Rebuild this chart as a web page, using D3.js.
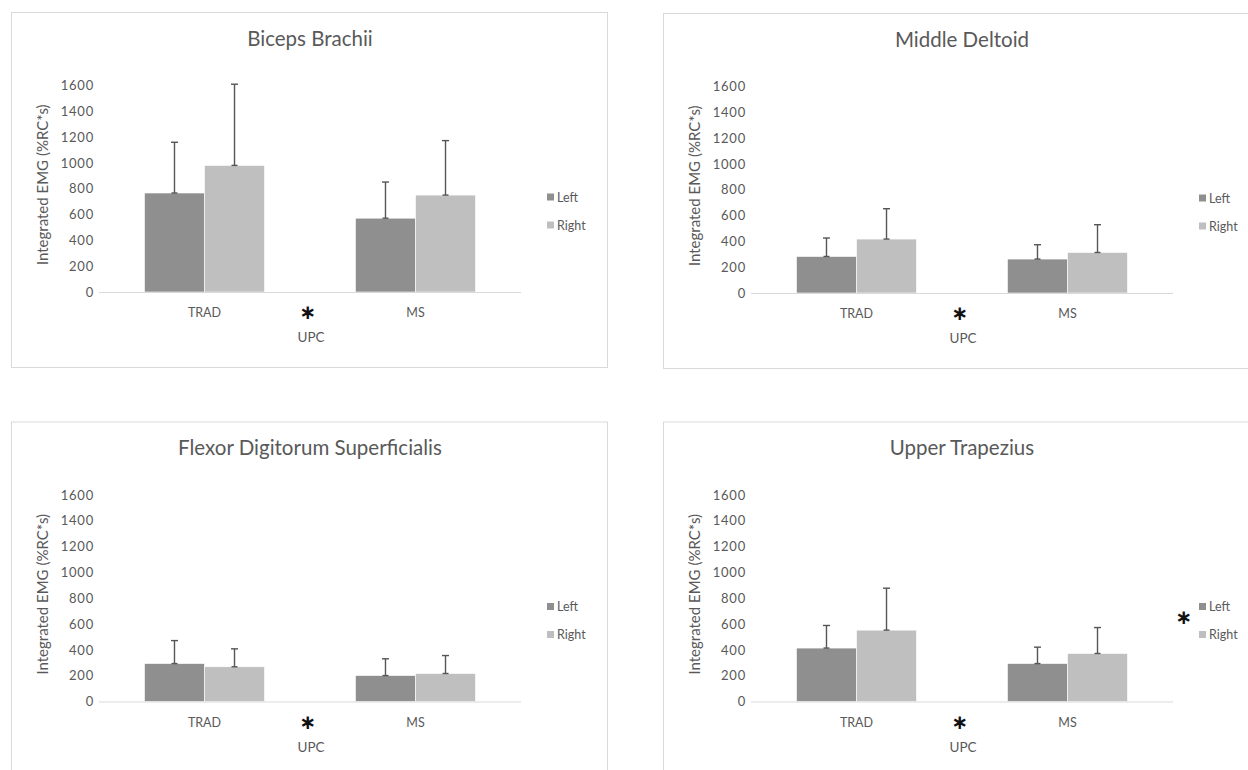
<!DOCTYPE html>
<html>
<head>
<meta charset="utf-8">
<script src="https://cdn.jsdelivr.net/npm/d3@7"></script>
<style>
  html, body { margin: 0; padding: 0; background: #fff; }
  svg { display: block; }
  text { font-family: Lato, "Open Sans", sans-serif; fill: #595959; }
  text.sig { font-family: "DejaVu Sans", sans-serif; font-weight: bold; fill: #111; }
</style>
</head>
<body>
<svg id="chart" width="1248" height="770"></svg>
<script>
// ---- data ----
const muscles = ["Biceps Brachii", "Middle Deltoid", "Flexor Digitorum Superficialis", "Upper Trapezius"];
const categories = ["TRAD", "MS"];
const series = ["Left", "Right"];
// means per muscle: [TRAD, MS]
const leftMean  = [[767, 572], [283, 263], [294, 201], [414, 294]];
const rightMean = [[981, 751], [418, 314], [269, 217], [553, 372]];
// upper error (SD) per muscle: [TRAD, MS]
const leftSD  = [[393, 280], [143, 111], [178, 130], [175, 127]];
const rightSD = [[629, 422], [235, 215], [139, 139], [325, 201]];
const yTicks = [0, 200, 400, 600, 800, 1000, 1200, 1400, 1600];
const yLabel = "Integrated EMG (%RC*s)";
const xLabel = "UPC";
// significance markers (panel indices)
const sigBetween = [0, 1, 2, 3];      // asterisk between TRAD and MS
const sigLegend = [3];                // asterisk next to legend
const sigMark = "\u2217";

// ---- layout ----
const svg = d3.select("#chart");
const panelOrigins = [[0, 0], [652, 1], [0, 409.5], [652, 409.5]];
const colors = { Left: "#8f8f8f", Right: "#bfbfbf" };

muscles.forEach((name, i) => {
  const [ox, oy] = panelOrigins[i];
  const g = svg.append("g").attr("transform", `translate(${ox},${oy})`);

  g.append("rect")
    .attr("x", 11.5).attr("y", 12.5)
    .attr("width", 596).attr("height", 355)
    .attr("fill", "#fff").attr("stroke", "#d9d9d9").attr("stroke-width", 1);

  const plotLeft = 99, plotRight = 521, plotTop = 85.5, plotBottom = 292;

  const x0 = d3.scaleBand().domain(categories).range([plotLeft, plotRight])
    .paddingInner(0.431).paddingOuter(0.2155);
  const x1 = d3.scaleBand().domain(series).range([0, x0.bandwidth()]);
  const y = d3.scaleLinear().domain([0, 1600]).range([plotBottom, plotTop]);

  // title
  g.append("text")
    .attr("x", 310).attr("y", 45.5)
    .attr("text-anchor", "middle")
    .style("font-size", "20.5px")
    .text(name);

  // y axis
  const yAxis = g.append("g")
    .attr("transform", `translate(${plotLeft},0)`)
    .call(d3.axisLeft(y).tickValues(yTicks).tickSize(0).tickPadding(5).tickFormat(d3.format("d")));
  yAxis.select(".domain").remove();
  yAxis.selectAll("text")
    .style("font-size", "13px")
    .style("letter-spacing", "0.8px")
    .attr("fill", "#595959")
    .style("font-family", "Lato, 'Open Sans', sans-serif");

  // y label
  g.append("text")
    .attr("transform", `translate(48,${(plotTop + plotBottom) / 2 - 4}) rotate(-90)`)
    .attr("text-anchor", "middle")
    .style("font-size", "15px")
    .text(yLabel);

  // bars
  const rows = [];
  categories.forEach((c, ci) => {
    rows.push({ cat: c, ser: "Left", v: leftMean[i][ci], e: leftSD[i][ci] });
    rows.push({ cat: c, ser: "Right", v: rightMean[i][ci], e: rightSD[i][ci] });
  });

  g.selectAll("rect.bar").data(rows).join("rect")
    .attr("class", "bar")
    .attr("x", d => x0(d.cat) + x1(d.ser))
    .attr("y", d => y(d.v))
    .attr("width", x1.bandwidth())
    .attr("height", d => y(0) - y(d.v))
    .attr("fill", d => colors[d.ser])
    .attr("stroke", "#fff").attr("stroke-width", 0.6);

  // baseline
  g.append("line")
    .attr("x1", plotLeft).attr("x2", plotRight)
    .attr("y1", y(0) + 0.5).attr("y2", y(0) + 0.5)
    .attr("stroke", "#d9d9d9").attr("stroke-width", 1.2);

  // error bars
  const eb = g.selectAll("g.err").data(rows).join("g").attr("class", "err")
    .attr("stroke", "#555").attr("stroke-width", 1.4);
  const cx = d => x0(d.cat) + x1(d.ser) + x1.bandwidth() / 2;
  eb.append("line")
    .attr("x1", cx).attr("x2", cx)
    .attr("y1", d => y(d.v)).attr("y2", d => y(d.v + d.e));
  eb.append("line")
    .attr("x1", d => cx(d) - 3.5).attr("x2", d => cx(d) + 3.5)
    .attr("y1", d => y(d.v + d.e)).attr("y2", d => y(d.v + d.e));
  eb.append("line")
    .attr("x1", d => cx(d) - 3).attr("x2", d => cx(d) + 3)
    .attr("y1", d => y(d.v)).attr("y2", d => y(d.v));

  // category labels
  g.selectAll("text.cat").data(categories).join("text")
    .attr("class", "cat")
    .attr("x", d => x0(d) + x0.bandwidth() / 2)
    .attr("y", plotBottom + 25)
    .attr("text-anchor", "middle")
    .style("font-size", "12.5px")
    .text(d => d);

  // x label
  g.append("text")
    .attr("x", 311).attr("y", plotBottom + 50)
    .attr("text-anchor", "middle")
    .style("font-size", "13.5px")
    .text(xLabel);

  // significance asterisk between groups
  if (sigBetween.includes(i)) {
    g.append("text")
      .attr("class", "sig")
      .attr("x", 308).attr("y", plotBottom + 27)
      .attr("text-anchor", "middle")
      .style("font-size", "20px")
      .text(sigMark);
  }

  // legend
  series.forEach((s, si) => {
    const ly = 197 + si * 28;
    g.append("rect")
      .attr("x", 547).attr("y", ly - 3.5)
      .attr("width", 7).attr("height", 7)
      .attr("fill", colors[s]);
    g.append("text")
      .attr("x", 557).attr("y", ly + 4.5)
      .style("font-size", "12.5px")
      .text(s);
  });

  if (sigLegend.includes(i)) {
    g.append("text")
      .attr("class", "sig")
      .attr("x", 532).attr("y", 214)
      .attr("text-anchor", "middle")
      .style("font-size", "20px")
      .text(sigMark);
  }
});
</script>
</body>
</html>
